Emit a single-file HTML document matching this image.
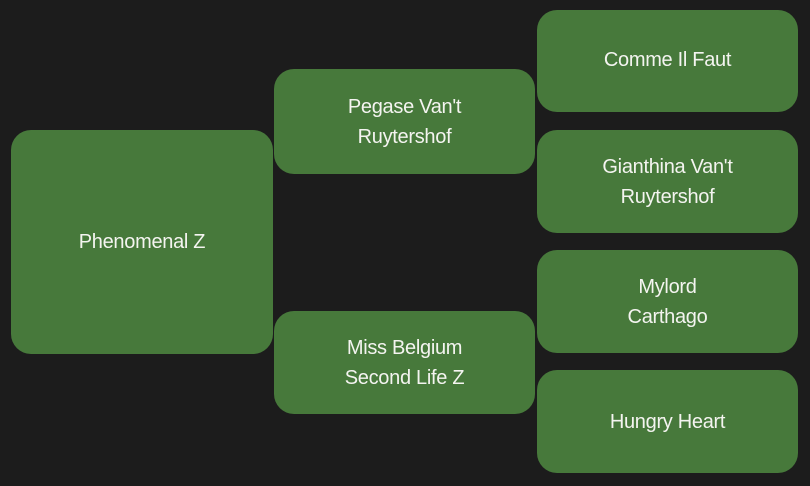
<!DOCTYPE html>
<html><head><style>
html,body{margin:0;padding:0;width:810px;height:486px;background:#1c1c1c;overflow:hidden}
.b{position:absolute;background:#47793b;border-radius:20px;color:#f4f4f0;font-family:"Liberation Sans",sans-serif;font-size:20px;line-height:30px;display:flex;align-items:center;justify-content:center;text-align:center;letter-spacing:-0.3px}
</style></head><body>
<div class="b" style="left:11px;top:130px;width:262px;height:224px">Phenomenal Z</div>
<div class="b" style="left:274px;top:69px;width:261px;height:105px">Pegase Van't<br>Ruytershof</div>
<div class="b" style="left:274px;top:311px;width:261px;height:103px">Miss Belgium<br>Second Life Z</div>
<div class="b" style="left:537px;top:10px;width:261px;height:102px;padding-bottom:2px;box-sizing:border-box">Comme Il Faut</div>
<div class="b" style="left:537px;top:130px;width:261px;height:103px">Gianthina Van't<br>Ruytershof</div>
<div class="b" style="left:537px;top:250px;width:261px;height:103px">Mylord<br>Carthago</div>
<div class="b" style="left:537px;top:370px;width:261px;height:103px">Hungry Heart</div>
</body></html>
